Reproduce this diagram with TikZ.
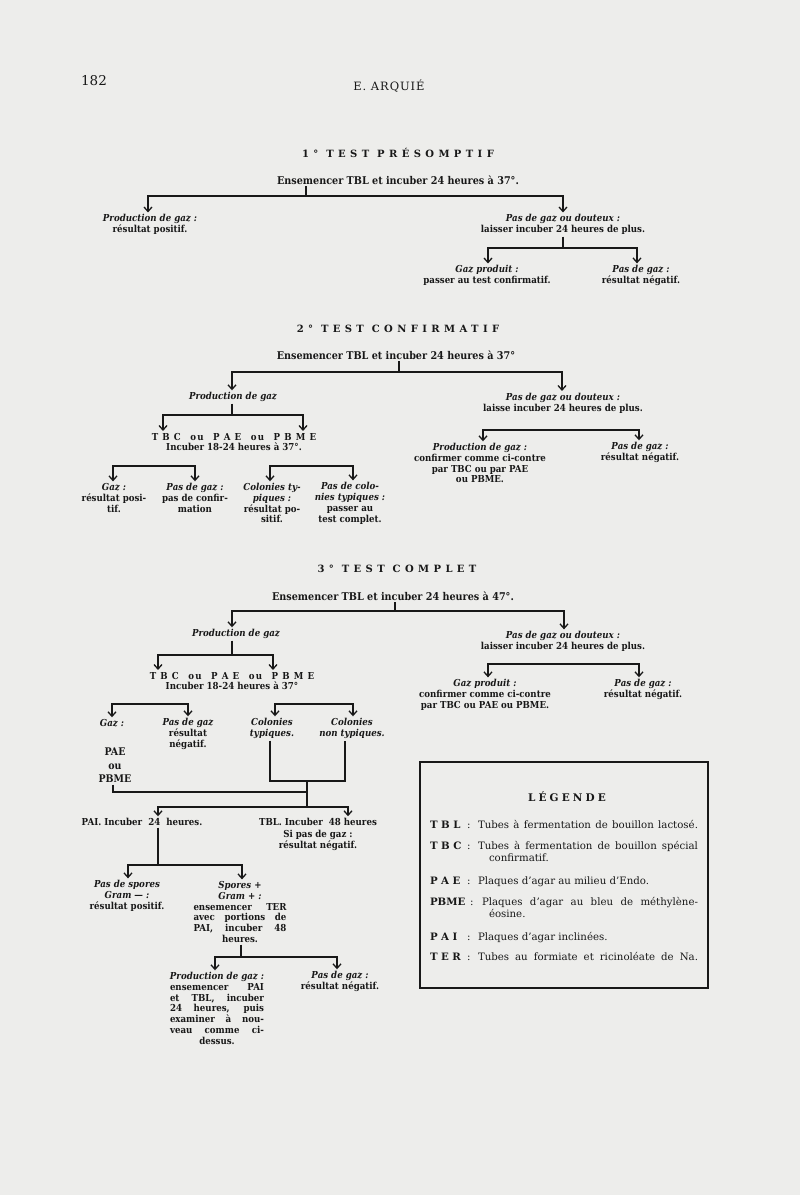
\documentclass[tikz,border=0pt]{standalone}
\usepackage{fontspec}
\setmainfont{DejaVu Serif}
\newfontfamily\bodyfam{DejaVu Serif}[FakeStretch=0.9, Ligatures=TeX]
\usetikzlibrary{arrows.meta}
\definecolor{ink}{RGB}{24,24,24}
\definecolor{paper}{RGB}{237,237,235}
\newcommand{\bodyf}{\bodyfam\fontsize{9.6}{10.8}\selectfont\bfseries}
\newcommand{\ensf}{\bodyfam\fontsize{10.7}{11.5}\selectfont\bfseries}
\newcommand{\titf}{\fontsize{10}{12}\selectfont\bfseries\addfontfeatures{LetterSpace=44}}
\newcommand{\legf}{\fontsize{10.2}{12}\selectfont}
\newcommand{\jl}[2]{\makebox[#1pt][s]{#2}}
\newcommand{\tbc}{{\addfontfeatures{LetterSpace=12}T B C\quad ou\quad P A E\quad ou\quad P B M E}}
\tikzset{
  lbl/.style={inner sep=0pt, outer sep=2pt, align=center, font=\bodyf, text=ink},
  ttl/.style={lbl, font=\titf},
  ens/.style={lbl, font=\ensf},
  lg/.style={inner sep=0pt, outer sep=0pt, font=\legf, text=ink, anchor=base west},
  ln/.style={draw=ink, line width=1.3pt},
  arr/.style={draw=ink, line width=1.3pt, -{Straight Barb[length=4.5pt,width=8pt]}},
}
\begin{document}
\begin{tikzpicture}[x=1pt,y=-1pt]
\fill[paper] (0,0) rectangle (800,1195);
\useasboundingbox (0,0) rectangle (800,1195);

% header
\node[lbl, font=\fontsize{13.5}{14}\selectfont] (pg) at (94,81) {182};
\node[lbl, font=\fontsize{11.5}{13}\selectfont\addfontfeatures{LetterSpace=8}] (au) at (389,86) {E. ARQUIÉ};

% ---------- Test 1
\node[ttl] (t1) at (398,153) {1° TEST PRÉSOMPTIF};
\node[ens] (e1) at (398,180) {Ensemencer TBL et incuber 24 heures à 37°.};
\coordinate (s1) at (306,196); \coordinate (l1) at (148,196); \coordinate (r1) at (563,196);
\node[lbl] (n1a) at (150,224.5) {\textit{Production de gaz :}\\résultat positif.};
\node[lbl] (n1b) at (563,224.5) {\textit{Pas de gaz ou douteux :}\\laisser incuber 24 heures de plus.};
\draw[ln] (e1.south -| s1) -- (s1);
\draw[arr] (s1) -| (l1 |- n1a.north);
\draw[arr] (s1) -| (r1 |- n1b.north);
\coordinate (s2) at (563,248); \coordinate (l2) at (488,248); \coordinate (r2) at (637,248);
\node[lbl] (n1c) at (487,275.5) {\textit{Gaz produit :}\\passer au test confirmatif.};
\node[lbl] (n1d) at (641,275.5) {\textit{Pas de gaz :}\\résultat négatif.};
\draw[ln] (n1b.south -| s2) -- (s2);
\draw[arr] (s2) -| (l2 |- n1c.north);
\draw[arr] (s2) -| (r2 |- n1d.north);

% ---------- Test 2
\node[ttl] (t2) at (398,329) {2° TEST CONFIRMATIF};
\node[ens] (e2) at (396,355) {Ensemencer TBL et incuber 24 heures à 37°};
\coordinate (s3) at (399,372); \coordinate (l3) at (232,372); \coordinate (r3) at (562,372);
\node[lbl] (n2a) at (233,397) {\textit{Production de gaz}};
\node[lbl] (n2b) at (563,403) {\textit{Pas de gaz ou douteux :}\\laisse incuber 24 heures de plus.};
\draw[ln] (e2.south -| s3) -- (s3);
\draw[arr] (s3) -| (l3 |- n2a.north);
\draw[arr] (s3) -| (r3 |- n2b.north);
\coordinate (s4) at (232,415); \coordinate (l4) at (163,415); \coordinate (r4) at (303,415);
\node[lbl] (n2c) at (234,442) {\tbc\\Incuber 18-24 heures à 37°.};
\draw[ln] (n2a.south -| s4) -- (s4);
\draw[arr] (s4) -| (l4 |- n2c.north);
\draw[arr] (s4) -| (r4 |- n2c.north);
\coordinate (m5) at (154,466); \coordinate (l5) at (113,466); \coordinate (r5) at (195,466);
\coordinate (m6) at (311,466); \coordinate (l6) at (270,466); \coordinate (r6) at (353,466);
\node[lbl] (n2d) at (114,497.8) {\textit{Gaz :}\\résultat posi-\\tif.};
\node[lbl] (n2e) at (195,497.8) {\textit{Pas de gaz :}\\pas de confir-\\mation};
\node[lbl] (n2f) at (272,503.2) {\textit{Colonies ty-}\\\textit{piques :}\\résultat po-\\sitif.};
\node[lbl] (n2g) at (350,503.2) {\textit{Pas de colo-}\\\textit{nies typiques :}\\passer au\\test complet.};
\draw[arr] (m5) -| (l5 |- n2d.north);
\draw[arr] (m5) -| (r5 |- n2e.north);
\draw[arr] (m6) -| (l6 |- n2f.north);
\draw[arr] (m6) -| (r6 |- n2g.north);
\coordinate (m7) at (561,430); \coordinate (l7) at (483,430); \coordinate (r7) at (639,430);
\node[lbl] (n2h) at (480,463.2) {\textit{Production de gaz :}\\confirmer comme ci-contre\\par TBC ou par PAE\\ou PBME.};
\node[lbl] (n2i) at (640,452.4) {\textit{Pas de gaz :}\\résultat négatif.};
\draw[arr] (m7) -| (l7 |- n2h.north);
\draw[arr] (m7) -| (r7 |- n2i.north);

% ---------- Test 3
\node[ttl] (t3) at (397,569) {3° TEST COMPLET};
\node[ens] (e3) at (393,596) {Ensemencer TBL et incuber 24 heures à 47°.};
\coordinate (s8) at (395,611); \coordinate (l8) at (232,611); \coordinate (r8) at (564,611);
\node[lbl] (n3a) at (236,634) {\textit{Production de gaz}};
\node[lbl] (n3b) at (563,641.4) {\textit{Pas de gaz ou douteux :}\\laisser incuber 24 heures de plus.};
\draw[ln] (e3.south -| s8) -- (s8);
\draw[arr] (s8) -| (l8 |- n3a.north);
\draw[arr] (s8) -| (r8 |- n3b.north);
\coordinate (s9) at (232,655); \coordinate (l9) at (158,655); \coordinate (r9) at (273,655);
\node[lbl] (n3c) at (232,681) {\tbc\\Incuber 18-24 heures à 37°};
\draw[ln] (n3a.south -| s9) -- (s9);
\draw[arr] (s9) -| (l9 |- n3c.north);
\draw[arr] (s9) -| (r9 |- n3c.north);
\coordinate (m10) at (150,704); \coordinate (l10) at (112,704); \coordinate (r10) at (188,704);
\coordinate (m11) at (314,704); \coordinate (l11) at (275,704); \coordinate (r11) at (353,704);
\node[lbl] (n3d) at (112,723) {\textit{Gaz :}};
\node[lbl] (n3e) at (188,733.8) {\textit{Pas de gaz}\\résultat\\négatif.};
\node[lbl] (n3f) at (272,728.4) {\textit{Colonies}\\\textit{typiques.}};
\node[lbl] (n3g) at (352,728.4) {\textit{Colonies}\\\textit{non typiques.}};
\draw[arr] (m10) -| (l10 |- n3d.north);
\draw[arr] (m10) -| (r10 |- n3e.north);
\draw[arr] (m11) -| (l11 |- n3f.north);
\draw[arr] (m11) -| (r11 |- n3g.north);
\node[lbl, font=\bodyfam\fontsize{10.5}{11}\selectfont\bfseries] (n3h) at (115,765.5) {PAE\\[2.4pt]ou\\[2.4pt]PBME};
\coordinate (j1) at (270,781); \coordinate (j2) at (345,781);
\coordinate (s12) at (307,781); \coordinate (b12) at (307,807);
\coordinate (l12) at (158,807); \coordinate (r12) at (348,807);
\coordinate (h1) at (113,792); \coordinate (h2) at (307,792);
\draw[ln] (n3f.south -| j1) -- (j1) -- (j2) -- (n3g.south -| j2);
\draw[ln] (s12) -- (b12);
\draw[ln] (n3h.south -| h1) -- (h1) -- (h2);
\node[lbl] (n3i) at (142,822) {PAI.\ Incuber\ \ 24\ \ heures.};
\node[lbl] (n3j) at (318,834.5) {TBL.\ Incuber\ \ 48\ heures\\[1.5pt]Si pas de gaz :\\résultat négatif.};
\draw[arr] (b12) -| (l12 |- n3i.north);
\draw[arr] (b12) -| (r12 |- n3j.north);
\coordinate (s13) at (158,865); \coordinate (l13) at (128,865); \coordinate (r13) at (242,865);
\draw[ln] (n3i.south -| s13) -- (s13);
\node[lbl] (n3k) at (127,895.8) {\textit{Pas de spores}\\\textit{Gram — :}\\résultat positif.};
\node[lbl] (n3l) at (240,912) {\textit{Spores +}\\\textit{Gram + :}\\\jl{93}{ensemencer TER}\\\jl{93}{avec portions de}\\\jl{93}{PAI, incuber 48}\\heures.};
\draw[arr] (s13) -| (l13 |- n3k.north);
\draw[arr] (s13) -| (r13 |- n3l.north);
\coordinate (s14) at (241,957); \coordinate (l14) at (215,957); \coordinate (r14) at (337,957);
\draw[ln] (n3l.south -| s14) -- (s14);
\node[lbl] (n3m) at (217,1008.4) {\textit{Production de gaz :}\\\jl{94}{ensemencer PAI}\\\jl{94}{et TBL, incuber}\\\jl{94}{24 heures, puis}\\\jl{94}{examiner à nou-}\\\jl{94}{veau comme ci-}\\dessus.};
\node[lbl] (n3n) at (340,981.4) {\textit{Pas de gaz :}\\résultat négatif.};
\draw[arr] (s14) -| (l14 |- n3m.north);
\draw[arr] (s14) -| (r14 |- n3n.north);
\coordinate (m15) at (563,664); \coordinate (l15) at (488,664); \coordinate (r15) at (639,664);
\node[lbl] (n3o) at (485,694.8) {\textit{Gaz produit :}\\confirmer comme ci-contre\\par TBC ou PAE ou PBME.};
\node[lbl] (n3p) at (643,689.4) {\textit{Pas de gaz :}\\résultat négatif.};
\draw[arr] (m15) -| (l15 |- n3o.north);
\draw[arr] (m15) -| (r15 |- n3p.north);

% ---------- Legend
\node[draw=ink, line width=2pt, minimum width=288pt, minimum height=226pt, inner sep=0pt] (leg) at (564,875) {};
\node[lbl, font=\fontsize{10.5}{12}\selectfont\bfseries\addfontfeatures{LetterSpace=30}] (lgt) at (567,797) {LÉGENDE};
\node[lg, font=\legf\bfseries] (k1) at (430,828) {T B L};
\node[lg] (c1) at (467,828) {:};
\node[lg] (d1) at (478,828) {\jl{220}{Tubes à fermentation de bouillon lactosé.}};
\node[lg, font=\legf\bfseries] (k2) at (430,849) {T B C};
\node[lg] (c2) at (467,849) {:};
\node[lg] (d2) at (478,849) {\jl{220}{Tubes à fermentation de bouillon spécial}};
\node[lg] (d2b) at (489,861) {confirmatif.};
\node[lg, font=\legf\bfseries] (k3) at (430,884) {P A E};
\node[lg] (c3) at (467,884) {:};
\node[lg] (d3) at (478,884) {Plaques d'agar au milieu d'Endo.};
\node[lg, font=\legf\bfseries] (k4) at (430,905) {PBME};
\node[lg] (c4) at (470,905) {:};
\node[lg] (d4) at (482,905) {\jl{216}{Plaques d'agar au bleu de méthylène-}};
\node[lg] (d4b) at (489,917) {éosine.};
\node[lg, font=\legf\bfseries] (k5) at (430,940) {P A I};
\node[lg] (c5) at (467,940) {:};
\node[lg] (d5) at (478,940) {Plaques d'agar inclinées.};
\node[lg, font=\legf\bfseries] (k6) at (430,960) {T E R};
\node[lg] (c6) at (467,960) {:};
\node[lg] (d6) at (478,960) {\jl{220}{Tubes au formiate et ricinoléate de Na.}};
\end{tikzpicture}
\end{document}
